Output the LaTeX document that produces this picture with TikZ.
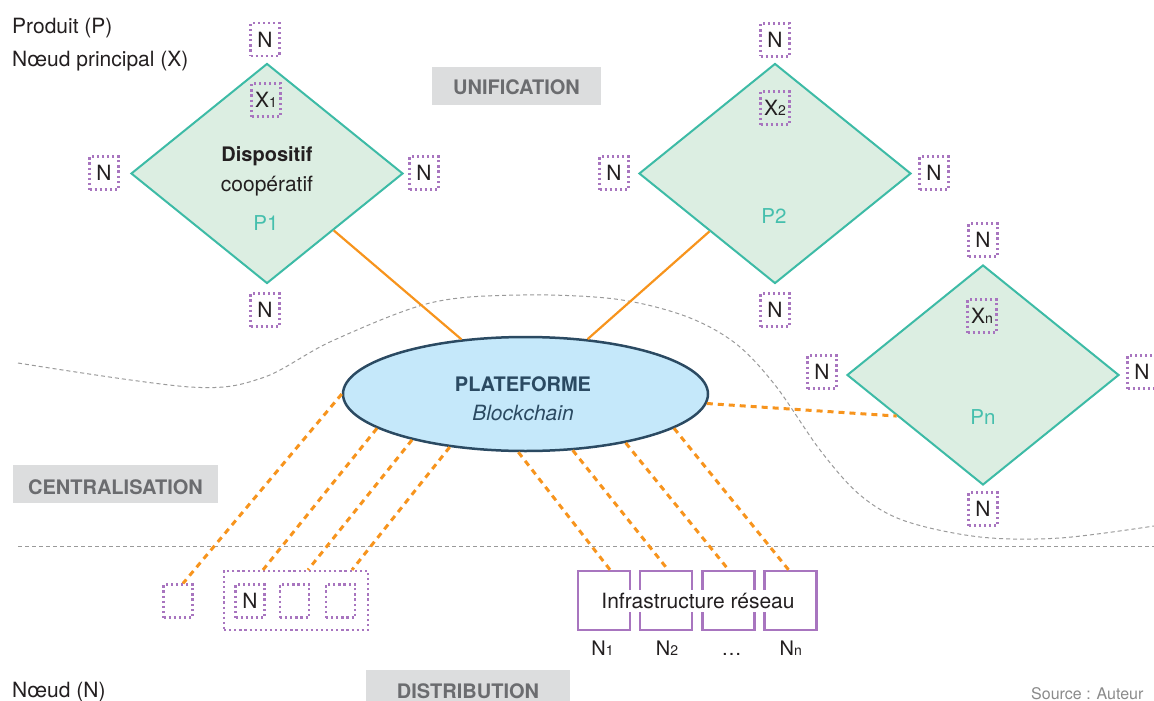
\documentclass[tikz,border=0pt]{standalone}
\usepackage{fontspec}
\setmainfont{TeX Gyre Heros}
\usetikzlibrary{shapes.geometric,calc}
\definecolor{ink}{HTML}{231F20}
\definecolor{tealS}{HTML}{3DBBA6}
\definecolor{tealT}{HTML}{45BFAD}
\definecolor{mint}{HTML}{DCEEE2}
\definecolor{purp}{HTML}{A875BF}
\definecolor{orng}{HTML}{F7941D}
\definecolor{sky}{HTML}{C5E8FA}
\definecolor{navy}{HTML}{2B4A62}
\definecolor{gfill}{HTML}{DCDDDE}
\definecolor{gtext}{HTML}{6B6C6F}
\definecolor{gline}{HTML}{9A9A9A}
\definecolor{srcgrey}{HTML}{8A8A8A}
\newcommand{\myfs}[1]{\fontsize{#1}{#1}\selectfont}
\newcommand{\smallsub}[1]{{\myfs{14}#1}}
\begin{document}
\begin{tikzpicture}[x=1pt,y=-1pt,
  lbl/.style={inner sep=0, anchor=base, text=ink, font=\myfs{20}},
  dotbox/.style={draw=purp, line width=2.2pt, dash pattern=on 2.2pt off 2.9pt,
    inner sep=0, minimum width=29pt, minimum height=33pt, text=ink, font=\myfs{21}},
  prod/.style={diamond, draw=tealS, fill=mint, line width=2pt, inner sep=0,
    minimum width=272pt, minimum height=220pt},
  platf/.style={ellipse, draw=navy, fill=sky, line width=2.5pt, inner sep=0,
    minimum width=365pt, minimum height=114pt},
  gbox/.style={fill=gfill, inner sep=0, minimum height=38pt},
  gtxt/.style={inner sep=0, anchor=base, text=gtext, font=\bfseries\myfs{20}},
  infra/.style={draw=purp, line width=2.5pt, inner sep=0, minimum width=52pt, minimum height=59pt},
  solidlink/.style={draw=orng, line width=2.2pt},
  dashlink/.style={draw=orng, line width=3pt, dash pattern=on 6pt off 5pt},
  sepline/.style={draw=gline, line width=1pt, dash pattern=on 4pt off 3pt}
]
\useasboundingbox (0,0) rectangle (1154,701);

% separators
\draw[sepline] plot[smooth, tension=0.55] coordinates {(18,363) (190,387) (262,378) (332,341) (430,303) (520,295) (615,299) (685,316) (735,343) (775,385) (820,450) (860,495) (905,521) (980,537) (1060,538) (1154,526)};
\draw[sepline] (18,546) -- (1154,546);

% legend
\node[lbl, anchor=base west, font=\myfs{21}] at (12,33.3) {Produit (P)};
\node[lbl, anchor=base west, font=\myfs{21}] at (12,66.7) {Nœud principal (X)};
\node[lbl, anchor=base west, font=\myfs{21}] at (12,697) {Nœud (N)};
\node[lbl, anchor=base west, text=srcgrey, font=\myfs{16}] at (1031,699) {Source : Auteur};

% grey level boxes
\node[gbox, minimum width=169pt] (uni) at (516.5,86) {};
\node[gtxt] at (516.5,95) {UNIFICATION};
\node[gbox, minimum width=205pt] (cen) at (115.5,484) {};
\node[gtxt] at (115.5,494) {CENTRALISATION};
\node[gbox, minimum width=204pt] (dis) at (468,689) {};
\node[gtxt] at (468,698.5) {DISTRIBUTION};

% platform
\node[platf] (plat) at (525.5,394) {};
\node[lbl, text=navy, font=\bfseries\myfs{20}] at (523,391) {PLATEFORME};
\node[lbl, text=navy, font=\itshape\myfs{21}] at (523,420) {Blockchain};

% products
\node[prod] (P1) at (267,173.5) {};
\node[prod] (P2) at (775,173.5) {};
\node[prod] (Pn) at (983,375) {};

% P1 contents
\node[dotbox] (x1) at (266,100) {X\smallsub{1}};
\node[lbl, font=\bfseries\myfs{20}] at (267,161.7) {Dispositif};
\node[lbl, font=\myfs{21}] at (267,191) {coopératif};
\node[lbl, text=tealT, font=\myfs{20.5}] at (266,230.7) {P1};
\node[dotbox] (p1t) at (265,39.7) {N};
\node[dotbox] (p1l) at (104,173) {N};
\node[dotbox] (p1r) at (424,173) {N};
\node[dotbox] (p1b) at (265,310) {N};

% P2 contents
\node[dotbox] (x2) at (775,108) {X\smallsub{2}};
\node[lbl, text=tealT, font=\myfs{20.5}] at (774,223.3) {P2};
\node[dotbox] (p2t) at (775,40) {N};
\node[dotbox] (p2l) at (614,173) {N};
\node[dotbox] (p2r) at (934,173) {N};
\node[dotbox] (p2b) at (775,310) {N};

% Pn contents
\node[dotbox] (xn) at (982,316) {X\smallsub{n}};
\node[lbl, text=tealT, font=\myfs{20.5}] at (983,424.5) {Pn};
\node[dotbox] (pnt) at (983,240) {N};
\node[dotbox] (pnl) at (822,372) {N};
\node[dotbox] (pnr) at (1142,372) {N};
\node[dotbox] (pnb) at (983,509) {N};

% bottom-left nodes
\node[dotbox] (s1) at (178,601) {};
\node[dotbox, minimum width=144pt, minimum height=59pt] (grp) at (296,600.5) {};
\node[dotbox] (g1) at (250,601) {N};
\node[dotbox] (g2) at (294.5,601) {};
\node[dotbox] (g3) at (340.5,601) {};

% infrastructure
\node[infra] (i1) at (604,600.5) {};
\node[infra] (i2) at (666,600.5) {};
\node[infra] (i3) at (728.5,600.5) {};
\node[infra] (i4) at (790.5,600.5) {};
\node[lbl, fill=white, inner xsep=1pt, inner ysep=3pt, font=\myfs{21}] (infratxt) at (698,608.3) {Infrastructure réseau};
\node[lbl] at (602.5,655) {N\smallsub{1}};
\node[lbl] at (667,655) {N\smallsub{2}};
\node[lbl] at (731.7,655) {\dots};
\node[lbl] at (790.7,655) {N\smallsub{n}};

% connectors
\draw[solidlink] (P1) -- (plat);
\draw[solidlink] (P2) -- (plat);
\draw[dashlink] (plat.-3) -- ($(Pn.west)!0.37!(Pn.south)$);
\draw[dashlink] (plat.west) -- ([xshift=5pt]s1.north);
\draw[dashlink] (plat.193) -- ([xshift=-33pt]grp.north);
\draw[dashlink] (plat.202) -- ([xshift=12pt]grp.north);
\draw[dashlink] (plat.215) -- ([xshift=56pt]grp.north);
\draw[dashlink] (plat.263) -- ([xshift=6pt]i1.north);
\draw[dashlink] (plat.310) -- ([xshift=2pt]i2.north);
\draw[dashlink] (plat.334.5) -- (i3.north);
\draw[dashlink] (plat.347.5) -- ([xshift=-2pt]i4.north);
\end{tikzpicture}
\end{document}
